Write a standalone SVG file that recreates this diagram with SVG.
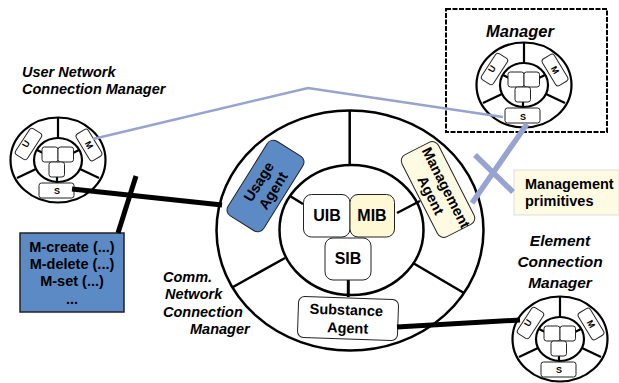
<svg xmlns="http://www.w3.org/2000/svg" width="619" height="383" viewBox="0 0 619 383">
<style>
text{font-family:"Liberation Sans",Arial,sans-serif;font-weight:bold;fill:#000;text-anchor:middle}
.s{text-anchor:start}
.i{font-style:italic}
.w{fill:#fff;stroke:#000;stroke-width:2.200}
.big{fill:#fff;stroke:#000;stroke-width:2.500}
.sp{stroke:#000;stroke-width:2.200;fill:none}
.spb{stroke:#000;stroke-width:2.500;fill:none}
.b{fill:#fff;stroke:#222;stroke-width:1}
.t{font-size:9px}
.m{font-size:16px}
.a{font-size:14.500px}
.l{font-size:14.500px}
.c{stroke:#000;stroke-width:5;fill:none}
.p{stroke:#97a3d0;fill:none}
</style>
<defs>
<g id="wheel">
<ellipse class="w" cx="0" cy="0" rx="47.500" ry="42.500"/>
<ellipse class="w" cx="0" cy="0" rx="24" ry="22"/>
<path class="sp" d="M0-42V-22M-41 18L-22 9M41 18L22 9M-21-10L-15-7M21-10L15-7M-1 16V24"/>
<rect class="b" x="-16" y="-13" width="16" height="15" rx="2.500"/>
<rect class="b" x="0" y="-13" width="15.500" height="15" rx="2.500"/>
<rect class="b" x="-9" y="2" width="15.500" height="15" rx="2.500"/>
<rect class="b" x="-7" y="-15.500" width="14" height="31" rx="3" transform="translate(-29.500 -16) rotate(33)"/>
<rect class="b" x="-7" y="-15.500" width="14" height="31" rx="3" transform="translate(31 -15) rotate(-31)"/>
<rect class="b" x="-19" y="23" width="35" height="15" rx="2.500"/>
</g>
</defs>

<g id="comm-manager">
<ellipse class="big" cx="350" cy="230.500" rx="133.500" ry="120"/>
<ellipse class="big" cx="351.500" cy="230" rx="72" ry="65"/>
<path class="spb" d="M349.700 110V165M290 196L303 204M397 213L420 201M285 258L233 287M413 263L464 293"/>
<path d="M348.300 280V297" stroke="#000" stroke-width="3"/>
<rect class="b" x="303.500" y="194.500" width="46.500" height="42.500" rx="8"/>
<text class="m" x="327" y="221">UIB</text>
<rect fill="#fef8d5" stroke="#222" x="350" y="194.500" width="44.500" height="42.500" rx="8"/>
<text class="m" x="372" y="221">MIB</text>
<rect class="b" x="325" y="238" width="46" height="42" rx="8"/>
<text class="m" x="348" y="264">SIB</text>
</g>

<g id="usage-agent" transform="translate(265.500 186) rotate(-58)">
<rect fill="#5b8ac5" stroke="#222" x="-44" y="-21" width="88" height="42" rx="7"/>
<text class="a" x="0" y="-3">Usage</text>
<text class="a" x="0" y="14">Agent</text>
</g>
<g id="management-agent" transform="translate(438 189.500) rotate(63)">
<rect fill="#fffbe3" stroke="#222" x="-46" y="-20.500" width="92" height="41" rx="7"/>
<text class="a" x="2" y="-3">Management</text>
<text class="a" x="2" y="14">Agent</text>
</g>
<g id="substance-agent" transform="translate(348 319) rotate(2)">
<rect class="b" x="-50" y="-21" width="100" height="41" rx="6"/>
<text class="a" x="-2" y="-4">Substance</text>
<text class="a" x="0" y="14">Agent</text>
</g>

<g id="user-manager">
<use href="#wheel" transform="translate(58 160)"/>
<text class="t" transform="translate(26 144) rotate(-60)" y="3">U</text>
<text class="t" transform="translate(89 145) rotate(60)" y="3">M</text>
<text class="t" x="57" y="194">S</text>
<text class="i l s" x="22" y="77">User Network</text>
<text class="i l s" x="22" y="94">Connection Manager</text>
</g>

<g id="manager">
<rect x="446" y="9" width="161" height="123" fill="none" stroke="#000" stroke-width="2" stroke-dasharray="5 1.500"/>
<use href="#wheel" transform="translate(524 85)"/>
<text class="t" transform="translate(492 69) rotate(-60)" y="3">U</text>
<text class="t" transform="translate(555 70) rotate(60)" y="3">M</text>
<text class="t" x="523" y="120">S</text>
<text class="i" font-size="16.500" x="520" y="37">Manager</text>
</g>

<g id="element-manager">
<use href="#wheel" transform="translate(560 339)"/>
<text class="t" transform="translate(528 323) rotate(-60)" y="3">U</text>
<text class="t" transform="translate(591 324) rotate(60)" y="3">M</text>
<text class="t" x="559" y="373">S</text>
<text class="i" font-size="15.500" x="560" y="246">Element</text>
<text class="i" font-size="15.500" x="560" y="267">Connection</text>
<text class="i" font-size="15.500" x="560" y="288">Manager</text>
</g>

<g id="m-commands">
<rect x="20" y="233" width="104" height="79" fill="#5b8ac5" stroke="#222" stroke-width="1.500"/>
<text class="a" x="72" y="252">M-create (...)</text>
<text class="a" x="72" y="269">M-delete (...)</text>
<text class="a" x="72" y="286">M-set (...)</text>
<text class="a" x="72" y="304">...</text>
</g>

<g id="management-primitives">
<rect x="514" y="170" width="105" height="45" fill="#fffbe3" stroke="#ddd"/>
<text class="l s" x="525" y="189">Management</text>
<text class="l s" x="525" y="206">primitives</text>
</g>

<g id="comm-label">
<text class="i l s" x="163" y="282">Comm.</text>
<text class="i l s" x="165" y="299">Network</text>
<text class="i l s" x="163" y="317">Connection</text>
<text class="i l s" x="190" y="334">Manager</text>
</g>

<g id="connectors">
<path class="c" d="M72 189L222 205"/>
<path class="c" d="M136 176L118 233"/>
<path class="c" d="M397 327L520 320"/>
<path class="p" stroke-width="2.500" d="M93 139L308 88L503 117"/>
<path class="p" stroke-width="5.500" d="M475 155L513 192"/>
<path class="p" stroke-width="5.500" d="M472 203L527 124"/>
</g>
</svg>
